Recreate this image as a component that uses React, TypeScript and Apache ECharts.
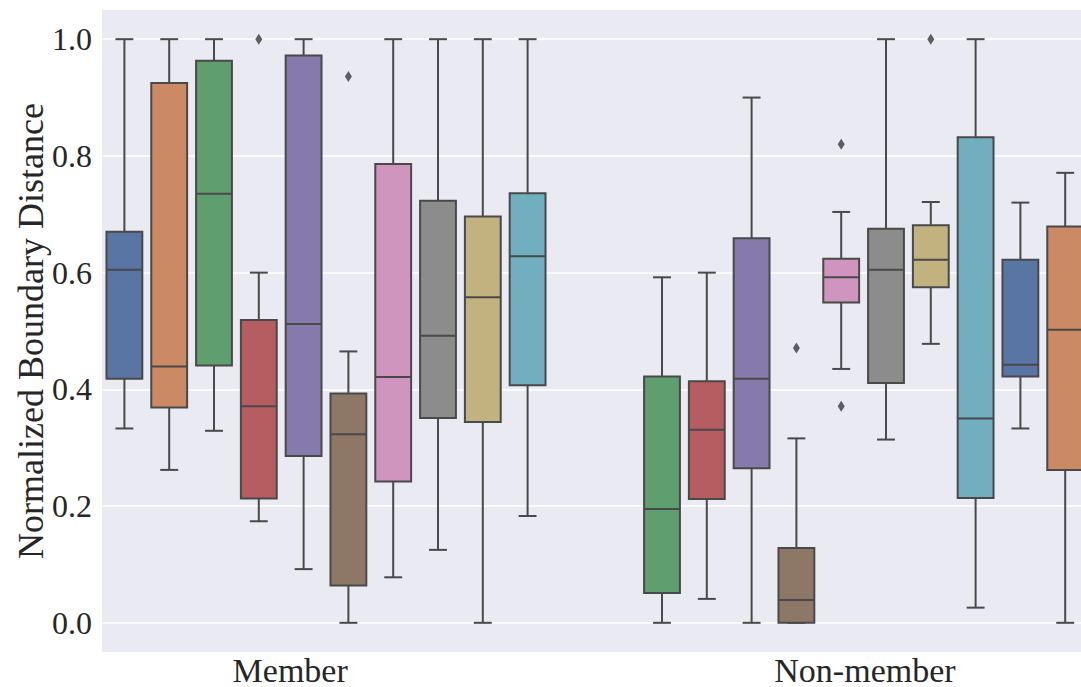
import React, { useEffect, useRef } from "react";
import * as echarts from "echarts";

// ---- data ----
const groups = ["Member", "Non-member"];
const yTicks = [0, 0.2, 0.4, 0.6, 0.8, 1.0];
const palette = [
  "#5875A4", "#CB8964", "#5F9E6E", "#B55D60", "#857AAB",
  "#8D7866", "#D095BF", "#8C8C8C", "#C1B27F", "#71AEC0",
];
// [lower whisker, Q1, median, Q3, upper whisker]
const memberBoxes = [
  [0.333, 0.418, 0.605, 0.670, 1.0],
  [0.262, 0.369, 0.439, 0.925, 1.0],
  [0.329, 0.441, 0.735, 0.963, 1.0],
  [0.174, 0.213, 0.371, 0.519, 0.600],
  [0.092, 0.286, 0.512, 0.972, 1.0],
  [0.0, 0.064, 0.323, 0.393, 0.465],
  [0.078, 0.242, 0.421, 0.786, 1.0],
  [0.125, 0.351, 0.492, 0.723, 1.0],
  [0.0, 0.344, 0.558, 0.696, 1.0],
  [0.183, 0.407, 0.628, 0.736, 1.0],
];
const memberColors = [0, 1, 2, 3, 4, 5, 6, 7, 8, 9];
const memberOutliers = [
  [3, 1.0],
  [5, 0.936],
];
const nonMemberBoxes = [
  [0.0, 0.051, 0.195, 0.422, 0.592],
  [0.041, 0.212, 0.331, 0.414, 0.600],
  [0.0, 0.265, 0.418, 0.659, 0.900],
  [0.0, 0.0, 0.039, 0.128, 0.316],
  [0.435, 0.549, 0.592, 0.624, 0.704],
  [0.314, 0.411, 0.605, 0.675, 1.0],
  [0.478, 0.575, 0.622, 0.681, 0.721],
  [0.026, 0.214, 0.350, 0.832, 1.0],
  [0.333, 0.422, 0.442, 0.622, 0.720],
  [0.0, 0.262, 0.502, 0.679, 0.771],
];
const nonMemberColors = [2, 3, 4, 5, 6, 7, 8, 9, 0, 1];
const nonMemberOutliers = [
  [3, 0.471],
  [4, 0.820],
  [4, 0.371],
  [6, 1.0],
];

// slot layout on the category axis
const memberStart = 0;
const nonMemberStart = 12;
const slotCount = 22;

const EDGE = "#494949";
const TEXT = "#262626";
const SERIF = '"Liberation Serif", "DejaVu Serif", serif';

export default function App() {
  const ref = useRef<HTMLDivElement>(null);

  useEffect(() => {
    if (!ref.current) return;
    const chart = echarts.init(ref.current, undefined, { renderer: "svg" });

    const categories = Array.from({ length: slotCount }, (_, i) => "slot" + i);
    const boxData: number[][] = [];
    memberBoxes.forEach((b, i) => boxData.push([memberStart + i, ...b, memberColors[i]]));
    nonMemberBoxes.forEach((b, i) => boxData.push([nonMemberStart + i, ...b, nonMemberColors[i]]));
    const outlierData: number[][] = [];
    memberOutliers.forEach(([i, v]) => outlierData.push([memberStart + i, v]));
    nonMemberOutliers.forEach(([i, v]) => outlierData.push([nonMemberStart + i, v]));

    const renderBox = (params: any, api: any) => {
      const slot = api.value(0);
      const bw = api.size([1, 0])[0] * 0.8;
      const half = bw / 2;
      const cap = half / 2;
      const pLow = api.coord([slot, api.value(1)]);
      const pQ1 = api.coord([slot, api.value(2)]);
      const pMed = api.coord([slot, api.value(3)]);
      const pQ3 = api.coord([slot, api.value(4)]);
      const pHigh = api.coord([slot, api.value(5)]);
      const cx = pLow[0];
      const color = palette[api.value(6)];
      const ls = { stroke: EDGE, lineWidth: 2 };
      return {
        type: "group",
        children: [
          { type: "line", shape: { x1: cx, y1: pQ1[1], x2: cx, y2: pLow[1] }, style: ls },
          { type: "line", shape: { x1: cx, y1: pQ3[1], x2: cx, y2: pHigh[1] }, style: ls },
          { type: "line", shape: { x1: cx - cap, y1: pLow[1], x2: cx + cap, y2: pLow[1] }, style: ls },
          { type: "line", shape: { x1: cx - cap, y1: pHigh[1], x2: cx + cap, y2: pHigh[1] }, style: ls },
          {
            type: "rect",
            shape: { x: cx - half, y: pQ3[1], width: bw, height: pQ1[1] - pQ3[1] },
            style: { fill: color, stroke: EDGE, lineWidth: 2 },
          },
          { type: "line", shape: { x1: cx - half, y1: pMed[1], x2: cx + half, y2: pMed[1] }, style: ls },
        ],
      };
    };

    const gridLeft = 102;
    const gridTop = 10;
    const gridWidth = 985.6;
    const gridHeight = 642;
    const slotW = gridWidth / slotCount;
    const labelPos = [
      gridLeft + slotW * 4.2,
      gridLeft + slotW * 17.03,
    ];

    chart.setOption({
      animation: false,
      backgroundColor: "#ffffff",
      grid: {
        left: gridLeft,
        top: gridTop,
        width: gridWidth,
        height: gridHeight,
        show: true,
        backgroundColor: "#EAEAF2",
        borderWidth: 0,
        containLabel: false,
        outerBoundsMode: "none",
      },
      xAxis: {
        type: "category",
        data: categories,
        axisLabel: { show: false },
        axisTick: { show: false },
        axisLine: { show: false },
        splitLine: { show: false },
      },
      yAxis: {
        type: "value",
        min: -0.05,
        max: 1.05,
        name: "Normalized Boundary Distance",
        nameLocation: "middle",
        nameGap: 53,
        nameMoveOverlap: false,
        nameTextStyle: { fontFamily: SERIF, fontSize: 36, color: TEXT },
        axisLabel: {
          customValues: yTicks,
          formatter: (v: number) => v.toFixed(1),
          fontFamily: SERIF,
          fontSize: 32,
          color: TEXT,
          margin: 10,
        },
        axisTick: { show: false, customValues: yTicks },
        axisLine: { show: false },
        splitLine: { show: true, lineStyle: { color: "#ffffff", width: 1.6 } },
      },
      graphic: groups.map((g, i) => ({
        type: "text",
        x: labelPos[i],
        y: 670,
        style: {
          text: g,
          fontFamily: SERIF,
          fontSize: 34,
          fill: TEXT,
          align: "center",
          verticalAlign: "middle",
        },
      })),
      series: [
        {
          type: "custom",
          renderItem: renderBox,
          data: boxData,
          encode: { x: 0, y: [1, 2, 3, 4, 5] },
          clip: false,
          z: 2,
        },
        {
          type: "scatter",
          data: outlierData,
          symbol: "diamond",
          symbolSize: [7, 11],
          itemStyle: { color: "#3a3a3a" },
          z: 3,
        },
      ],
    });

    return () => chart.dispose();
  }, []);

  return (
    <div
      style={{
        position: "fixed",
        left: 0,
        top: 0,
        width: 1081,
        height: 687,
        overflow: "hidden",
        background: "#ffffff",
      }}
    >
      <div ref={ref} style={{ width: 1100, height: 687 }} />
    </div>
  );
}
